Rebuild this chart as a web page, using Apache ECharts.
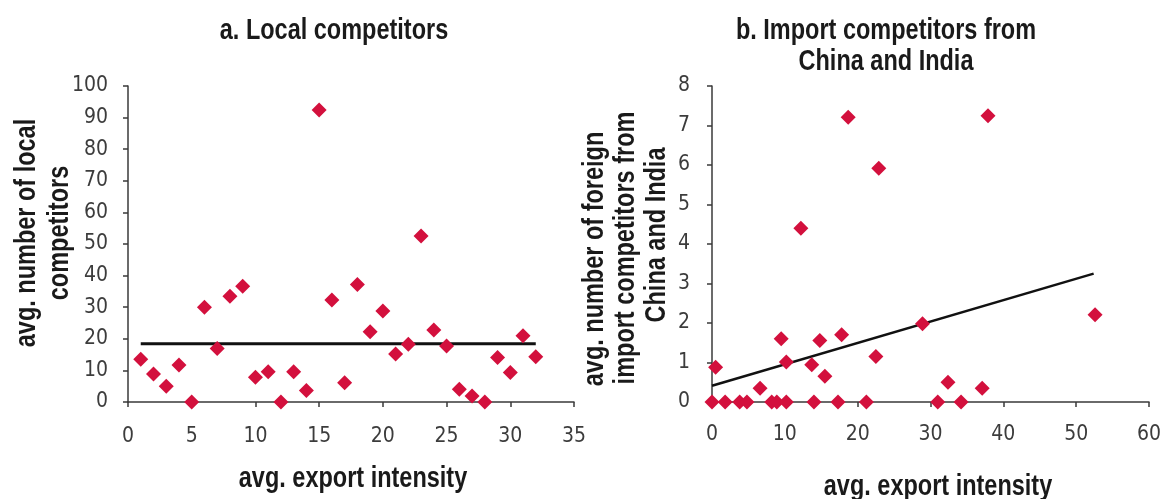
<!DOCTYPE html>
<html>
<head>
<meta charset="utf-8">
<script src="https://cdn.jsdelivr.net/npm/echarts@6/dist/echarts.min.js"></script>
<style>
html,body{margin:0;padding:0;background:#fff;}
#c{width:1164px;height:499px;}
</style>
</head>
<body>
<div id="c"></div>
<script>
// Panel a: local competitors
const localExport = [1,2,3,4,5,6,7,8,9,10,11,12,13,14,15,16,17,18,19,20,21,22,23,24,25,26,27,28,29,30,31,32];
const localCompetitors = [13.5,8.9,5.0,11.7,0,30.0,16.9,33.5,36.6,7.8,9.6,0,9.6,3.6,92.4,32.3,6.1,37.2,22.2,28.8,15.2,18.3,52.5,22.8,17.7,4.0,1.9,0,14.1,9.3,21.0,14.3];
const localTrendX = [1, 32];
const localTrendY = [18.4, 18.4];

// Panel b: import competitors from China and India
const importExport = [0,0.5,1.8,3.8,4.8,6.6,8.2,8.9,9.5,10.2,10.2,12.2,13.7,14.0,14.8,15.5,17.3,17.8,18.7,21.2,22.5,22.9,28.9,31.0,32.4,34.2,37.1,37.9,52.6];
const importCompetitors = [0,0.88,0,0,0,0.35,0,0,1.6,0,1.01,4.4,0.94,0,1.56,0.65,0,1.7,7.21,0,1.15,5.92,1.98,0,0.5,0,0.35,7.25,2.21];
const importTrendX = [0, 52.4];
const importTrendY = [0.41, 3.25];

// tick settings
const localXTicks = {min:0, max:35, interval:5};
const localYTicks = {min:0, max:100, interval:10};
const importXTicks = {min:0, max:60, interval:10};
const importYTicks = {min:0, max:8, interval:1};

const TICKFONT = "'DejaVu Sans Condensed','Liberation Sans',sans-serif";
const BOLDFONT = "'Liberation Sans',Arial,sans-serif";
const RED = '#d3103d';
const AXIS = '#3a3a3a';
const LABEL = '#3c3c3c';

function zip(xs, ys){ return xs.map((x,i)=>[x, ys[i]]); }

function axisCommon(t, margin){
  return {
    type:'value', min:t.min, max:t.max, interval:t.interval,
    splitLine:{show:false},
    axisLine:{show:true, onZero:false, lineStyle:{color:AXIS, width:1.5}},
    axisTick:{show:true, inside:false, length:5, lineStyle:{color:AXIS, width:1.5}},
    axisLabel:{color:LABEL, fontFamily:TICKFONT, fontSize:21, margin:margin}
  };
}

const chart = echarts.init(document.getElementById('c'), null, {renderer:'canvas'});

// condensed bold text: Liberation Sans Bold squeezed horizontally
function txt(x, y, text, size, rot){
  return {type:'text', x:x, y:y, rotation:rot||0, scaleX:0.81, scaleY:1,
    style:{text:text, fontFamily:BOLDFONT, fontWeight:'bold', fontSize:size, fill:'#1a1a1a',
      textAlign:'center', textVerticalAlign:'middle'}};
}

chart.setOption({
  backgroundColor:'#fff',
  animation:false,
  grid:[
    {left:128, top:86, width:446, height:316},
    {left:712, top:86, width:443, height:316}
  ],
  xAxis:[
    Object.assign(axisCommon(localXTicks, 24), {gridIndex:0}),
    Object.assign(axisCommon(importXTicks, 22), {gridIndex:1})
  ],
  yAxis:[
    Object.assign(axisCommon(localYTicks, 20), {gridIndex:0}),
    Object.assign(axisCommon(importYTicks, 22), {gridIndex:1})
  ],
  series:[
    {type:'line', xAxisIndex:0, yAxisIndex:0, data:zip(localTrendX, localTrendY),
      symbol:'none', lineStyle:{color:'#111', width:3}, z:2},
    {type:'scatter', xAxisIndex:0, yAxisIndex:0, data:zip(localExport, localCompetitors),
      symbol:'diamond', symbolSize:[15,15], itemStyle:{color:RED, opacity:1}, clip:false, z:3},
    {type:'line', xAxisIndex:1, yAxisIndex:1, data:zip(importTrendX, importTrendY),
      symbol:'none', lineStyle:{color:'#111', width:2.5}, z:2},
    {type:'scatter', xAxisIndex:1, yAxisIndex:1, data:zip(importExport, importCompetitors),
      symbol:'diamond', symbolSize:[15,15], itemStyle:{color:RED, opacity:1}, clip:false, z:3}
  ],
  graphic:[
    txt(334, 31, 'a. Local competitors', 29),
    txt(886, 31, 'b. Import competitors from', 29),
    txt(886, 62, 'China and India', 29),
    txt(353, 479, 'avg. export intensity', 29),
    txt(938, 487, 'avg. export intensity', 29),
    txt(27, 233, 'avg. number of local', 29, Math.PI/2),
    txt(60, 233, 'competitors', 29, Math.PI/2),
    txt(595, 259, 'avg. number of foreign', 29, Math.PI/2),
    txt(626, 248, 'import competitors from', 29, Math.PI/2),
    txt(657, 235, 'China and India', 29, Math.PI/2)
  ]
});
</script>
</body>
</html>
